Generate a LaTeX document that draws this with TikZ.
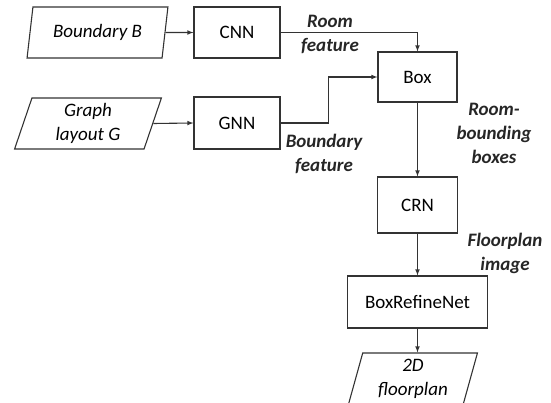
\documentclass[tikz,border=0pt]{standalone}
\usepackage{fontspec}
\setmainfont{Carlito}
\usepackage{tikz}
\usetikzlibrary{arrows,shapes.geometric}

\begin{document}
\begin{tikzpicture}[x=1pt,y=-1pt,
		font=\fontsize{19}{24}\selectfont,
		block/.style={draw=black!80,line width=1.1pt,inner sep=0pt,align=center},
		inbox/.style={block,trapezium,trapezium left angle=76,trapezium right angle=104,trapezium stretches=true,font=\fontsize{19}{24}\selectfont\itshape},
		elabel/.style={align=center,font=\fontsize{19}{24}\selectfont\bfseries\itshape,text=black!85},
		flow/.style={-latex,draw=black!80,line width=1.1pt}]
		\useasboundingbox (0,0) rectangle (551,403);
		\clip (0,0) rectangle (551,403);
		% inputs and networks
		\node[inbox,minimum width=141,minimum height=51] (bnd) at (97.5,32.5) {Boundary B};
		\node[block,minimum width=86,minimum height=51] (cnn) at (237,32.5) {CNN};
		\node[inbox,minimum width=148,minimum height=51] (graph) at (88,123.5) {Graph\\layout G};
		\node[block,minimum width=86,minimum height=52] (gnn) at (237,123) {GNN};
		\node[block,minimum width=79,minimum height=50] (box) at (417.5,77) {Box};
		\node[block,minimum width=80,minimum height=56] (crn) at (417.5,205) {CRN};
		\node[block,minimum width=140,minimum height=52] (brn) at (417.5,302) {BoxRefineNet};
		\node[inbox,minimum width=130,minimum height=51] (plan) at (413,378.5) {2D\\floorplan};
		% labels on the connectors
		\node[elabel] (roomf) at (330,34) {Room\\feature};
		\node[elabel] (bndf) at (324,154) {Boundary\\feature};
		\node[elabel] (rbb) at (494,133) {Room-\\bounding\\boxes};
		\node[elabel] (fimg) at (505,253) {Floorplan\\image};
		% connectors
		\draw[flow] (bnd.east) -- (cnn.west);
		\draw[flow] (graph.east) -- (gnn.west);
		\draw[flow] (cnn.east) -| (box.north);
		\draw[flow] (gnn.east) -- ++(48,0) |- (box.west);
		\draw[flow] (box.south) -- (crn.north);
		\draw[flow] (crn.south) -- (brn.north);
		\draw[flow] (brn.south) -- (brn.south |- plan.north);
		\end{tikzpicture}
\end{document}
